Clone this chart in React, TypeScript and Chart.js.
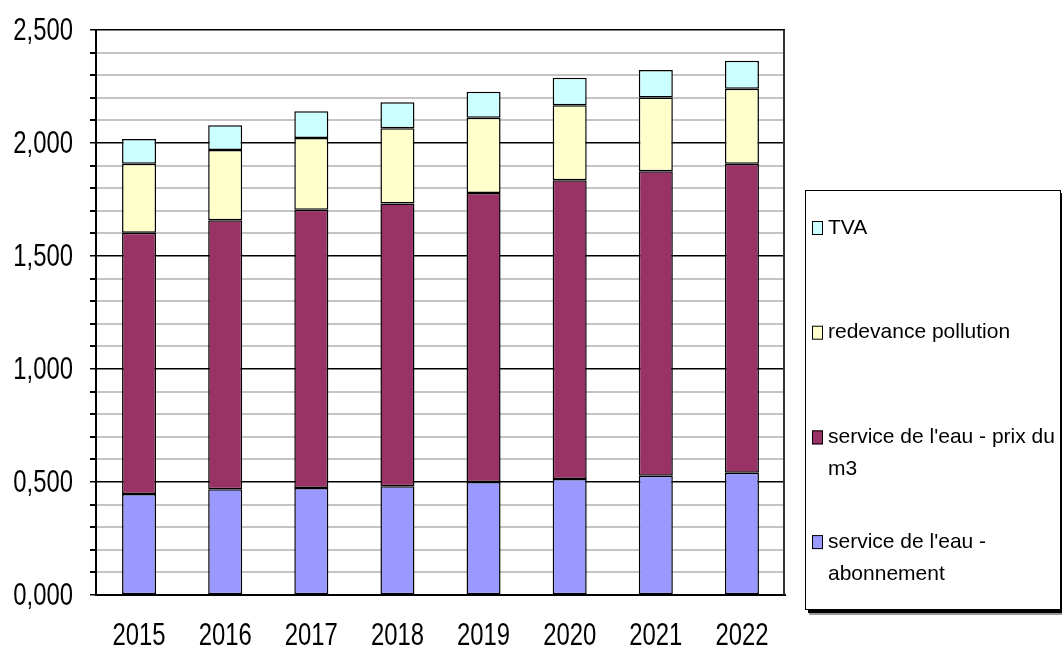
import React, { useEffect, useRef } from "react";
import { Chart, registerables } from "chart.js";

Chart.register(...registerables);

const categories = ["2015", "2016", "2017", "2018", "2019", "2020", "2021", "2022"];
const abonnement = [0.447, 0.468, 0.473, 0.481, 0.5, 0.513, 0.528, 0.541];
const prixM3 = [1.156, 1.19, 1.232, 1.251, 1.279, 1.322, 1.347, 1.367];
const redevance = [0.305, 0.311, 0.317, 0.333, 0.333, 0.332, 0.326, 0.332];
const tva = [0.11, 0.109, 0.118, 0.115, 0.115, 0.122, 0.122, 0.124];

const seriesLabels = [
  "service de l'eau - abonnement",
  "service de l'eau - prix du m3",
  "redevance pollution",
  "TVA",
];
const seriesColors = ["#9999FF", "#993366", "#FFFFCC", "#CCFFFF"];

const yMin = 0;
const yMax = 2.5;
const yStep = 0.1;
const yMajorStep = 0.5;

const baseFont = "'Liberation Sans', Arial, sans-serif";
const axisFontSize = 31;
const axisSqueeze = 0.77;

const isMajor = (v: number) => Math.abs(v / yMajorStep - Math.round(v / yMajorStep)) < 1e-6;
const fmtY = (v: number) => v.toFixed(3).replace(".", ",");

function wrapText(ctx: CanvasRenderingContext2D, text: string, maxW: number): string[] {
  const words = text.split(" ");
  const lines: string[] = [];
  let cur = "";
  for (const w of words) {
    const test = cur ? cur + " " + w : w;
    if (ctx.measureText(test).width > maxW && cur) {
      lines.push(cur);
      cur = w;
    } else cur = test;
  }
  if (cur) lines.push(cur);
  return lines;
}

// Axis labels drawn in a horizontally condensed face, positioned by the chart's scales
const axisLabelPlugin = {
  id: "narrowAxisLabels",
  afterDraw(chart: any) {
    const ctx: CanvasRenderingContext2D = chart.ctx;
    const xs = chart.scales.x;
    const ys = chart.scales.y;
    ctx.save();
    ctx.fillStyle = "#000";
    ctx.font = `${axisFontSize}px ${baseFont}`;
    ctx.textBaseline = "alphabetic";
    ctx.textAlign = "right";
    ys.ticks.forEach((t: any) => {
      if (!isMajor(t.value)) return;
      const y = ys.getPixelForValue(t.value);
      ctx.save();
      ctx.translate(ys.left + 73, y + 9.5);
      ctx.scale(axisSqueeze, 1);
      ctx.fillText(fmtY(t.value), 0, 0);
      ctx.restore();
    });
    ctx.textAlign = "center";
    categories.forEach((c, i) => {
      const x = xs.getPixelForTick(i);
      ctx.save();
      ctx.translate(x, xs.top + 50);
      ctx.scale(axisSqueeze, 1);
      ctx.fillText(c, 0, 0);
      ctx.restore();
    });
    ctx.restore();
  },
};

const legendPlugin = {
  id: "boxLegend",
  afterDraw(chart: any) {
    const ctx: CanvasRenderingContext2D = chart.ctx;
    const bx = 805, by = 190, bw = 256, bh = 420;
    ctx.save();
    ctx.fillStyle = "#999";
    ctx.fillRect(bx + 4, by + 4, bw, bh + 1);
    ctx.fillStyle = "#000";
    ctx.fillRect(bx + 3, by + 3, bw, bh);
    ctx.fillStyle = "#fff";
    ctx.fillRect(bx, by, bw, bh);
    ctx.strokeStyle = "#000";
    ctx.lineWidth = 1;
    ctx.strokeRect(bx + 0.5, by + 0.5, bw - 1, bh - 1);
    ctx.font = `21px ${baseFont}`;
    ctx.textBaseline = "middle";
    ctx.textAlign = "left";
    const ds = chart.data.datasets.slice().reverse();
    const pitch = 104.7;
    const lineH = 32;
    ds.forEach((d: any, i: number) => {
      const cy = by + 38 + i * pitch;
      ctx.fillStyle = d.backgroundColor;
      ctx.fillRect(bx + 7, cy - 7, 11, 14);
      ctx.strokeStyle = "#000";
      ctx.strokeRect(bx + 7.5, cy - 6.5, 10, 13);
      ctx.fillStyle = "#000";
      const lines = wrapText(ctx, d.label, 231);
      lines.forEach((ln, j) => ctx.fillText(ln, bx + 23, cy + j * lineH));
    });
    ctx.restore();
  },
};

const borderPlugin = {
  id: "areaBorder",
  afterDatasetsDraw(chart: any) {
    const { ctx, chartArea } = chart;
    ctx.save();
    ctx.strokeStyle = "#333";
    ctx.lineWidth = 2;
    ctx.beginPath();
    ctx.moveTo(Math.round(chartArea.right) - 1, chartArea.top);
    ctx.lineTo(Math.round(chartArea.right) - 1, chartArea.bottom);
    ctx.stroke();
    ctx.restore();
  },
};

export default function App() {
  const ref = useRef<HTMLCanvasElement>(null);
  useEffect(() => {
    if (!ref.current) return;
    const datasets = [abonnement, prixM3, redevance, tva].map((data, i) => ({
      label: seriesLabels[i],
      data,
      backgroundColor: seriesColors[i],
      borderColor: "#000",
      borderWidth: 1.5,
      borderSkipped: false,
      barPercentage: 0.395,
      categoryPercentage: 1,
    }));
    const chart = new Chart(ref.current, {
      type: "bar",
      data: { labels: categories, datasets },
      plugins: [borderPlugin, axisLabelPlugin, legendPlugin],
      options: {
        animation: false,
        responsive: false,
        devicePixelRatio: 1,
        layout: { padding: { left: 0, top: 30, right: 277, bottom: 0 } },
        plugins: { legend: { display: false }, tooltip: { enabled: false } },
        scales: {
          x: {
            stacked: true,
            grid: { display: false },
            border: { display: true, color: "#000", width: 2 },
            ticks: { display: false },
            afterFit: (s: any) => { s.height = 53; },
          },
          y: {
            stacked: true,
            min: yMin,
            max: yMax,
            border: { display: true, color: "#000", width: 2 },
            grid: {
              color: (c: any) => (isMajor(c.tick.value) ? "#000" : "#C4C4C4"),
              tickColor: "#000",
              tickLength: 6,
              lineWidth: (c: any) => (isMajor(c.tick.value) ? 1.5 : 2),
            },
            ticks: {
              display: false,
              stepSize: yStep,
              autoSkip: false,
              callback: (v: any) => (isMajor(Number(v)) ? fmtY(Number(v)) : ""),
            },
            afterFit: (s: any) => { s.width = 96; },
          },
        },
      },
    });
    return () => chart.destroy();
  }, []);
  return (
    <div style={{ position: "fixed", left: 0, top: 0, width: 1062, height: 648, background: "#fff" }}>
      <canvas ref={ref} width={1062} height={648} style={{ width: 1062, height: 648 }} />
    </div>
  );
}
